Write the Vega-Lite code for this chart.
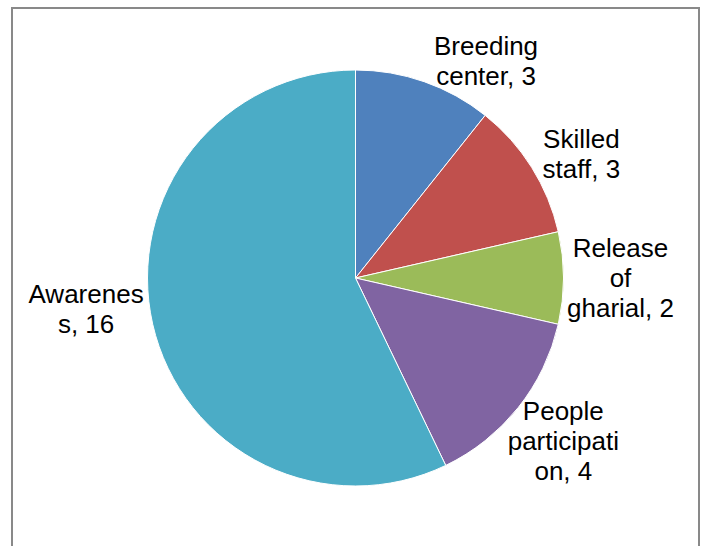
{
  "$schema": "https://vega.github.io/schema/vega-lite/v6.json",
  "width": 687,
  "height": 540,
  "autosize": {"type": "none"},
  "padding": {"left": 12, "top": 8, "right": 6, "bottom": 0},
  "background": "white",
  "view": {"stroke": "#898989", "strokeWidth": 2, "fill": "white"},
  "data": {
    "values": [
      {"category": "Breeding center", "label": "Breeding\ncenter, 3", "value": 3, "idx": 1},
      {"category": "Skilled staff", "label": "Skilled\nstaff, 3", "value": 3, "idx": 2},
      {"category": "Release of gharial", "label": "Release\nof\ngharial, 2", "value": 2, "idx": 3},
      {"category": "People participation", "label": "People\nparticipati\non, 4", "value": 4, "idx": 4},
      {"category": "Awareness", "label": "Awarenes\ns, 16", "value": 16, "idx": 5}
    ]
  },
  "encoding": {
    "theta": {"field": "value", "type": "quantitative", "stack": true},
    "order": {"field": "idx", "type": "quantitative"}
  },
  "layer": [
    {
      "mark": {"type": "arc", "radius": 208, "stroke": "white", "strokeWidth": 1},
      "encoding": {
        "color": {
          "field": "category",
          "type": "nominal",
          "scale": {
            "domain": ["Breeding center", "Skilled staff", "Release of gharial", "People participation", "Awareness"],
            "range": ["#4F81BD", "#C0504D", "#9BBB59", "#8064A2", "#4BACC6"]
          },
          "legend": null
        }
      }
    },
    {
      "mark": {"type": "text", "radius": 262, "dx": 3, "dy": -21, "font": "Liberation Sans", "fontSize": 26, "lineHeight": 30, "lineBreak": "\n", "align": "center", "baseline": "alphabetic", "color": "black"},
      "encoding": {
        "text": {"field": "label"},
        "opacity": {"condition": {"test": "datum.idx == 3 || datum.idx == 4", "value": 1}, "value": 0}
      }
    },
    {
      "mark": {"type": "text", "radius": 262, "dx": 4, "dy": 9, "font": "Liberation Sans", "fontSize": 26, "lineHeight": 30, "lineBreak": "\n", "align": "center", "baseline": "alphabetic", "color": "black"},
      "encoding": {
        "text": {"field": "label"},
        "opacity": {"condition": {"test": "datum.idx == 2", "value": 1}, "value": 0}
      }
    },
    {
      "mark": {"type": "text", "radius": 262, "dx": 44, "dy": 24, "font": "Liberation Sans", "fontSize": 26, "lineHeight": 30, "lineBreak": "\n", "align": "center", "baseline": "alphabetic", "color": "black"},
      "encoding": {
        "text": {"field": "label"},
        "opacity": {"condition": {"test": "datum.idx == 1", "value": 1}, "value": 0}
      }
    },
    {
      "mark": {"type": "text", "radius": 262, "dx": -14, "dy": -33, "font": "Liberation Sans", "fontSize": 26, "lineHeight": 30, "lineBreak": "\n", "align": "center", "baseline": "alphabetic", "color": "black"},
      "encoding": {
        "text": {"field": "label"},
        "opacity": {"condition": {"test": "datum.idx == 5", "value": 1}, "value": 0}
      }
    }
  ]
}
